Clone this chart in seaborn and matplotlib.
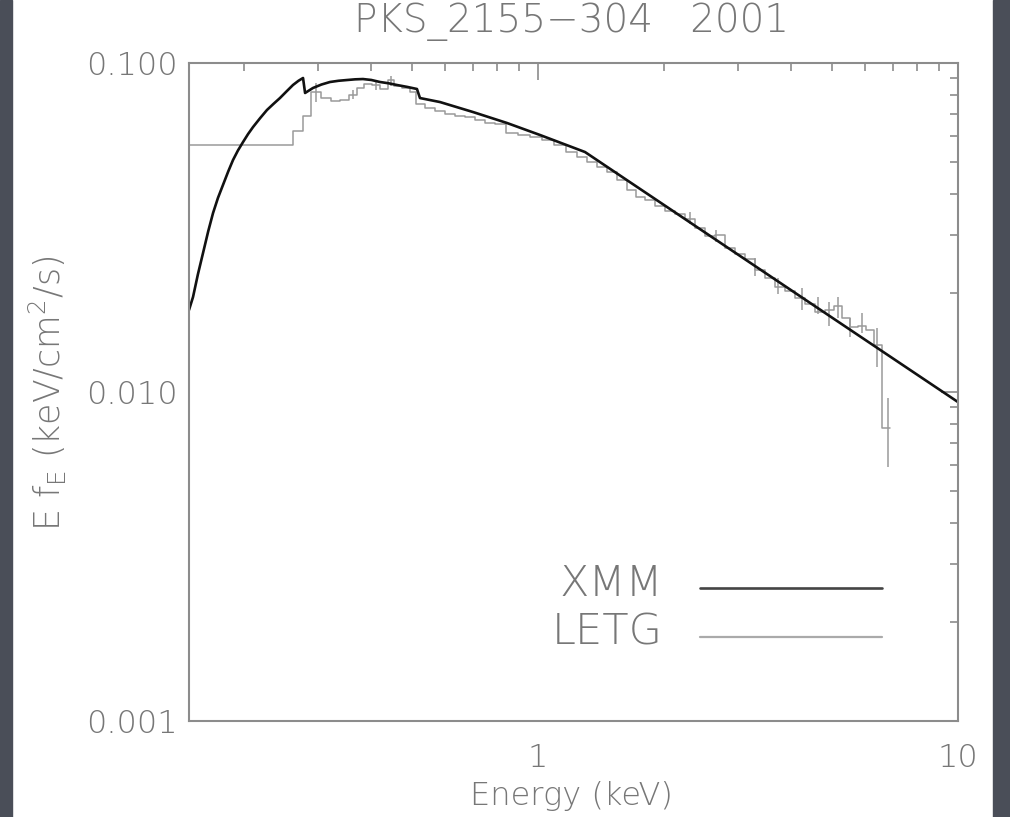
import matplotlib
matplotlib.use('Agg')
import matplotlib.pyplot as plt
import seaborn as sns
from matplotlib.ticker import FixedLocator, FixedFormatter, NullFormatter, LogLocator
from matplotlib.patches import Rectangle

# модель XMM (энергия в кэВ, E f_E)
xmm_energy = [0.1476, 0.1509, 0.1550, 0.1594, 0.1640, 0.1684, 0.1730, 0.1778, 0.1830, 0.1879,
              0.1930, 0.1985, 0.2040, 0.2097, 0.2180, 0.2263, 0.2345, 0.2430, 0.2520, 0.2610,
              0.2690, 0.2758, 0.2789, 0.2912, 0.3050, 0.3197, 0.3350, 0.3510, 0.3670, 0.3831,
              0.4010, 0.4205, 0.4400, 0.4615, 0.4880, 0.5150, 0.5236, 0.5843, 0.7001, 0.8435,
              1.011, 1.294, 10.0]
xmm_flux = [0.01775, 0.01945, 0.02280, 0.02646, 0.03080, 0.03500, 0.03890, 0.04257, 0.04680, 0.05073,
            0.05420, 0.05752, 0.06080, 0.06389, 0.06800, 0.07197, 0.07510, 0.07825, 0.08200, 0.08573,
            0.08830, 0.09003, 0.08107, 0.08395, 0.08600, 0.08755, 0.08830, 0.08877, 0.08920, 0.08938,
            0.08880, 0.08755, 0.08680, 0.08573, 0.08460, 0.08337, 0.07825, 0.07609, 0.07096, 0.06572,
            0.06042, 0.05363, 0.00932]

# спектр LETG: границы бинов и значения
letg_edges = [0.1476, 0.2610, 0.2758, 0.2880, 0.3043, 0.3214, 0.3378, 0.3548, 0.3707, 0.3853,
              0.4026, 0.4205, 0.4394, 0.4541, 0.4745, 0.4958, 0.5124, 0.5382, 0.5684, 0.6005,
              0.6344, 0.6701, 0.7079, 0.7479, 0.7901, 0.8390, 0.8962, 0.9571, 1.022, 1.092,
              1.166, 1.238, 1.308, 1.382, 1.460, 1.542, 1.629, 1.711, 1.798, 1.899,
              2.006, 2.120, 2.239, 2.365, 2.498, 2.639, 2.788, 2.944, 3.111, 3.286,
              3.471, 3.667, 3.874, 4.092, 4.322, 4.566, 4.824, 5.068, 5.295, 5.533,
              5.780, 6.039, 6.310, 6.592, 6.740, 6.889]
letg_flux = [0.0563, 0.0621, 0.0690, 0.0816, 0.0783, 0.0766, 0.0772, 0.0799, 0.0840, 0.0863,
             0.0857, 0.0834, 0.0888, 0.0851, 0.0840, 0.0816, 0.0750, 0.0730, 0.0715, 0.0700,
             0.0690, 0.0685, 0.0671, 0.0657, 0.0653, 0.0613, 0.0604, 0.0596, 0.0583, 0.0563,
             0.0536, 0.0518, 0.0500, 0.0483, 0.0466, 0.0441, 0.0411, 0.0392, 0.0383, 0.0368,
             0.0355, 0.0348, 0.0336, 0.0315, 0.0298, 0.0300, 0.0274, 0.0263, 0.0254, 0.0235,
             0.0222, 0.0209, 0.0203, 0.0193, 0.0185, 0.0175, 0.0178, 0.0183, 0.0168, 0.0158,
             0.0159, 0.0154, 0.0139, 0.0078, 0.0078]

# ошибки LETG
err_energy = [0.2960, 0.3627, 0.4114, 0.4467, 2.301, 2.653, 3.286, 3.727, 4.252, 4.642,
              4.930, 5.179, 5.533, 5.907, 6.413, 6.813]
err_low = [0.0760, 0.0775, 0.0828, 0.0851, 0.0324, 0.0286, 0.0225, 0.0199, 0.0178, 0.0173,
           0.0159, 0.0168, 0.0147, 0.0151, 0.0119, 0.0059]
err_high = [0.0870, 0.0830, 0.0882, 0.0913, 0.0352, 0.0311, 0.0255, 0.0222, 0.0207, 0.0195,
            0.0188, 0.0195, 0.0168, 0.0174, 0.0157, 0.0096]

y_ticks = [0.001, 0.01, 0.1]
y_tick_labels = ['0.001', '0.010', '0.100']
x_ticks = [1, 10]
x_tick_labels = ['1', '10']

sns.set_theme(style='white')
plt.rcParams['font.family'] = ['DejaVu Sans']
plt.rcParams['font.weight'] = 'light'

text_color = '#777777'
axis_color = '#8c8c8c'

fig = plt.figure(figsize=(10.10, 8.17), dpi=100)
ax = fig.add_axes([189 / 1010, 1 - 721 / 817, 769 / 1010, 658 / 817])
ax.set_xscale('log')
ax.set_yscale('log')

# LETG ступеньками
sns.lineplot(x=letg_edges, y=letg_flux + [letg_flux[-1]], drawstyle='steps-post',
             color='#9a9a9a', linewidth=1.1, estimator=None, sort=False, ax=ax)
ax.vlines(err_energy, err_low, err_high, color='#9a9a9a', linewidth=1.1)

# модель XMM
sns.lineplot(x=xmm_energy, y=xmm_flux, color='#111111', linewidth=1.9,
             estimator=None, sort=False, ax=ax)

ax.set_xlim(0.1476, 10)
ax.set_ylim(0.001, 0.1)

# оси и засечки
ax.xaxis.set_major_locator(FixedLocator(x_ticks))
ax.xaxis.set_major_formatter(FixedFormatter(x_tick_labels))
ax.xaxis.set_minor_locator(LogLocator(base=10, subs=range(2, 10)))
ax.xaxis.set_minor_formatter(NullFormatter())
ax.yaxis.set_major_locator(FixedLocator(y_ticks))
ax.yaxis.set_major_formatter(FixedFormatter(y_tick_labels))
ax.yaxis.set_minor_locator(LogLocator(base=10, subs=range(2, 10)))
ax.yaxis.set_minor_formatter(NullFormatter())

ax.tick_params(which='both', direction='in', top=True, right=True,
               color=axis_color, width=1.2, labelcolor=text_color, labelsize=23)
ax.tick_params(which='major', length=12)
ax.tick_params(which='minor', length=6)
ax.tick_params(axis='y', pad=8)
ax.tick_params(axis='x', pad=16)
for s in ax.spines.values():
    s.set_color(axis_color)
    s.set_linewidth(1.5)

# подписи
fig.text(571 / 1010, 1 - 22 / 817, 'PKS_2155\u2212304   2001', ha='center', va='center',
         fontsize=28, color=text_color)
fig.text(571 / 1010, 1 - 796 / 817, 'Energy (keV)', ha='center', va='center',
         fontsize=23, color=text_color)
fig.text(48 / 1010, 1 - 393 / 817, r'E f$_\mathregular{E}$ (keV/cm$^\mathregular{2}$/s)',
         ha='center', va='center', rotation=90, fontsize=25, color=text_color)

# легенда вручную
ax.text(0.6164, 0.2097, 'XMM', transform=ax.transAxes, ha='right', va='center',
        fontsize=31, color=text_color)
ax.text(0.6164, 0.1353, 'LETG', transform=ax.transAxes, ha='right', va='center',
        fontsize=31, color=text_color)
ax.plot([0.6645, 0.9012], [0.2021, 0.2021], transform=ax.transAxes, color='#444444', linewidth=1.9)
ax.plot([0.6645, 0.9012], [0.1277, 0.1277], transform=ax.transAxes, color='#aaaaaa', linewidth=1.6)

# тёмные полосы по краям
fig.add_artist(Rectangle((0, 0), 12 / 1010, 1, transform=fig.transFigure, color='#4a4e58'))
fig.add_artist(Rectangle((993 / 1010, 0), 17 / 1010, 1, transform=fig.transFigure, color='#4a4e58'))

fig.savefig('out.png', dpi=100)
